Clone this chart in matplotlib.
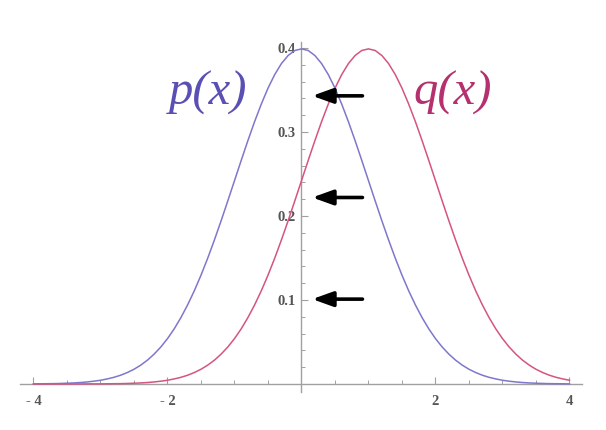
import numpy as np
import matplotlib
matplotlib.use("Agg")
import matplotlib.pyplot as plt
from matplotlib.ticker import FixedLocator

# ---- data ----
x_vals = [round(-4.0 + 0.1 * i, 1) for i in range(81)]
p_vals = [0.0001, 0.0002, 0.0003, 0.0004, 0.0006, 0.0009, 0.0012, 0.0017, 0.0024, 0.0033,
          0.0044, 0.0060, 0.0079, 0.0104, 0.0136, 0.0175, 0.0224, 0.0283, 0.0355, 0.0440,
          0.0540, 0.0656, 0.0790, 0.0941, 0.1109, 0.1295, 0.1497, 0.1714, 0.1942, 0.2179,
          0.2420, 0.2661, 0.2897, 0.3123, 0.3332, 0.3521, 0.3683, 0.3814, 0.3910, 0.3970,
          0.3989,
          0.3970, 0.3910, 0.3814, 0.3683, 0.3521, 0.3332, 0.3123, 0.2897, 0.2661, 0.2420,
          0.2179, 0.1942, 0.1714, 0.1497, 0.1295, 0.1109, 0.0941, 0.0790, 0.0656, 0.0540,
          0.0440, 0.0355, 0.0283, 0.0224, 0.0175, 0.0136, 0.0104, 0.0079, 0.0060, 0.0044,
          0.0033, 0.0024, 0.0017, 0.0012, 0.0009, 0.0006, 0.0004, 0.0003, 0.0002, 0.0001]
q_vals = [0.0000, 0.0000, 0.0000, 0.0000, 0.0000, 0.0000, 0.0000, 0.0000, 0.0001, 0.0001,
          0.0001, 0.0002, 0.0003, 0.0004, 0.0006, 0.0009, 0.0012, 0.0017, 0.0024, 0.0033,
          0.0044, 0.0060, 0.0079, 0.0104, 0.0136, 0.0175, 0.0224, 0.0283, 0.0355, 0.0440,
          0.0540, 0.0656, 0.0790, 0.0941, 0.1109, 0.1295, 0.1497, 0.1714, 0.1942, 0.2179,
          0.2420, 0.2661, 0.2897, 0.3123, 0.3332, 0.3521, 0.3683, 0.3814, 0.3910, 0.3970,
          0.3989,
          0.3970, 0.3910, 0.3814, 0.3683, 0.3521, 0.3332, 0.3123, 0.2897, 0.2661, 0.2420,
          0.2179, 0.1942, 0.1714, 0.1497, 0.1295, 0.1109, 0.0941, 0.0790, 0.0656, 0.0540,
          0.0440, 0.0355, 0.0283, 0.0224, 0.0175, 0.0136, 0.0104, 0.0079, 0.0060, 0.0044]
x_ticks = [-4, -2, 2, 4]
x_tick_labels = ["- 4", "- 2", "2", "4"]
y_ticks = [0.1, 0.2, 0.3, 0.4]
y_tick_labels = ["0.1", "0.2", "0.3", "0.4"]
arrow_y = [0.343, 0.222, 0.101]
arrow_head_x = 0.16
arrow_tail_x = 0.91
label_p = "p(x)"
label_q = "q(x)"

# ---- styling ----
plt.rcParams['font.family'] = ['Liberation Serif', 'DejaVu Serif']
blue_line = "#7f77cc"
pink_line = "#d4557f"
blue_text = "#5a50b4"
pink_text = "#b4306e"
axis_col = "#a0a0a0"
tick_txt = "#555555"

fig = plt.figure(figsize=(6.06, 4.30), dpi=100)
ax = fig.add_axes([0, 0, 1, 1])
ax.set_xlim(-4.5, 4.545)
ax.set_ylim(-0.0548, 0.4571)

ax.plot(x_vals, p_vals, color=blue_line, lw=1.1, zorder=3)
ax.plot(x_vals, q_vals, color=pink_line, lw=1.1, zorder=3)

for s in ("top", "right"):
    ax.spines[s].set_visible(False)
ax.spines["left"].set_position(("data", 0))
ax.spines["bottom"].set_position(("data", 0))
ax.spines["left"].set_bounds(-0.0095, 0.407)
ax.spines["bottom"].set_bounds(-4.2, 4.19)
for s in ("left", "bottom"):
    ax.spines[s].set_color(axis_col)
    ax.spines[s].set_linewidth(1.0)

ax.xaxis.set_major_locator(FixedLocator(x_ticks))
ax.set_xticklabels(x_tick_labels)
ax.xaxis.set_minor_locator(FixedLocator([v / 2 for v in range(-8, 9) if v not in (-8, -4, 0, 4, 8)]))
ax.yaxis.set_major_locator(FixedLocator(y_ticks))
ax.set_yticklabels(y_tick_labels)
ax.yaxis.set_minor_locator(FixedLocator([0.02, 0.04, 0.06, 0.08, 0.12, 0.14, 0.16, 0.18,
                                         0.22, 0.24, 0.26, 0.28, 0.32, 0.34, 0.36, 0.38]))

ax.tick_params(axis="x", which="major", direction="in", length=5, width=0.8,
               color=axis_col, labelcolor=tick_txt, labelsize=10.5, pad=8)
ax.tick_params(axis="x", which="minor", direction="in", length=3, width=0.7, color=axis_col)
ax.tick_params(axis="y", which="major", direction="in", length=5, width=0.8,
               color=axis_col, labelcolor=tick_txt, labelsize=10.5, pad=4)
ax.tick_params(axis="y", which="minor", direction="in", length=3, width=0.7, color=axis_col)
for lab in ax.get_xticklabels() + ax.get_yticklabels():
    lab.set_fontweight("bold")

for yv in arrow_y:
    ax.annotate("", xy=(arrow_head_x, yv), xytext=(arrow_tail_x, yv),
                arrowprops=dict(arrowstyle="-|>,head_length=1.25,head_width=0.45",
                                mutation_scale=10, lw=2.6, color="black",
                                shrinkA=0, shrinkB=0), zorder=5)

ax.text(-1.40, 0.347, label_p, color=blue_text, fontsize=35, style="italic",
        ha="center", va="center")
ax.text(2.25, 0.347, label_q, color=pink_text, fontsize=35, style="italic",
        ha="center", va="center")

fig.savefig("out.png", dpi=100, facecolor="white")
